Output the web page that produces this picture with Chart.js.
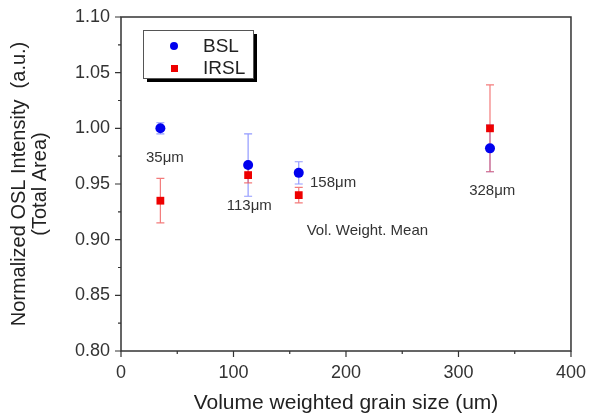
<!DOCTYPE html>
<html>
<head>
<meta charset="utf-8">
<script src="https://cdn.jsdelivr.net/npm/chart.js@4"></script>
<style>
  html, body { margin: 0; padding: 0; background: #fff; }
</style>
</head>
<body>
<canvas id="osl" width="589" height="416"></canvas>
<script>
// grain size (um) and normalized OSL intensity
const grainSize = [35, 113, 158, 328];
const bslValues = [1.000, 0.967, 0.960, 0.982];
const bslErrors = [0.005, 0.028, 0.010, 0.021];
const irslValues = [0.935, 0.958, 0.940, 1.000];
const irslErrors = [0.020, 0.007, 0.007, 0.039];

const xTicks = [0, 100, 200, 300, 400];
const yTicks = [0.80, 0.85, 0.90, 0.95, 1.00, 1.05, 1.10];

// text notes placed in data units
const notes = [
    {text: "35\u03bcm", x: 39, y: 0.9735, align: "center"},
    {text: "113\u03bcm", x: 114, y: 0.930, align: "center"},
    {text: "158\u03bcm", x: 168, y: 0.9514, align: "left"},
    {text: "328\u03bcm", x: 330, y: 0.9438, align: "center"},
    {text: "Vol. Weight. Mean", x: 219, y: 0.908, align: "center"}
];

const FONT = "Arial, 'Liberation Sans', sans-serif";
const INK = "#333";

const toPoints = (xs, ys) => xs.map((x, i) => ({x: x, y: ys[i]}));

// error bars, frame, minor ticks, notes and the boxed legend
const decor = {
    id: "decor",
    beforeDatasetsDraw(chart) {
        const {ctx, scales: {x, y}} = chart;
        const bars = [[bslErrors, "rgba(110,120,255,0.75)", 0], [irslErrors, "rgba(240,90,90,0.8)", 1]];
        ctx.save();
        ctx.lineWidth = 1.2;
        bars.forEach(([errs, color, di]) => {
            ctx.strokeStyle = color;
            chart.data.datasets[di].data.forEach((p, i) => {
                const px = x.getPixelForValue(p.x);
                const top = y.getPixelForValue(p.y + errs[i]);
                const bot = y.getPixelForValue(p.y - errs[i]);
                ctx.beginPath();
                ctx.moveTo(px, top); ctx.lineTo(px, bot);
                ctx.moveTo(px - 4, top); ctx.lineTo(px + 4, top);
                ctx.moveTo(px - 4, bot); ctx.lineTo(px + 4, bot);
                ctx.stroke();
            });
        });
        ctx.restore();
    },
    afterDraw(chart) {
        const {ctx, chartArea: a, scales: {x, y}} = chart;
        ctx.save();
        ctx.strokeStyle = INK;
        ctx.lineWidth = 1.5;
        ctx.strokeRect(a.left, a.top, a.right - a.left, a.bottom - a.top);

        // outward ticks, major every label, minor halfway
        ctx.lineWidth = 1.2;
        ctx.beginPath();
        for (let v = 0; v <= 400; v += 50) {
            const px = x.getPixelForValue(v);
            const len = v % 100 === 0 ? 6 : 3;
            ctx.moveTo(px, a.bottom); ctx.lineTo(px, a.bottom + len);
        }
        for (let k = 0; k <= 12; k++) {
            const v = 0.80 + k * 0.025;
            const py = y.getPixelForValue(v);
            const len = k % 2 === 0 ? 6 : 3;
            ctx.moveTo(a.left, py); ctx.lineTo(a.left - len, py);
        }
        ctx.stroke();

        ctx.fillStyle = INK;
        ctx.font = "15px " + FONT;
        ctx.textBaseline = "middle";
        notes.forEach(n => {
            ctx.textAlign = n.align;
            ctx.fillText(n.text, x.getPixelForValue(n.x), y.getPixelForValue(n.y));
        });

        // legend box with drop shadow
        const lx = 143, ly = 30, lw = 110, lh = 48;
        ctx.fillStyle = "#000";
        ctx.fillRect(lx + 4, ly + 4, lw, lh);
        ctx.fillStyle = "#fff";
        ctx.fillRect(lx, ly, lw, lh);
        ctx.strokeStyle = "#555";
        ctx.lineWidth = 1;
        ctx.strokeRect(lx + 0.5, ly + 0.5, lw, lh);
        ctx.fillStyle = "#0000ee";
        ctx.beginPath();
        ctx.arc(174, 46, 4, 0, Math.PI * 2);
        ctx.fill();
        ctx.fillStyle = "#ee0000";
        ctx.fillRect(171, 65, 7, 7);
        ctx.fillStyle = "#222";
        ctx.font = "19px " + FONT;
        ctx.textAlign = "left";
        ctx.fillText(chart.data.datasets[0].label, 203, 47);
        ctx.fillText(chart.data.datasets[1].label, 203, 69);
        ctx.restore();
    }
};

new Chart(document.getElementById("osl"), {
    type: "scatter",
    data: {
        datasets: [
            {
                label: "BSL",
                data: toPoints(grainSize, bslValues),
                pointStyle: "circle",
                pointRadius: 5,
                backgroundColor: "#0000ee",
                borderColor: "#0000ee",
                borderWidth: 0
            },
            {
                label: "IRSL",
                data: toPoints(grainSize, irslValues),
                pointStyle: "rect",
                pointRadius: 5.5,
                backgroundColor: "#ee0000",
                borderColor: "#ee0000",
                borderWidth: 0
            }
        ]
    },
    options: {
        responsive: false,
        animation: false,
        layout: {padding: {top: 17, right: 18, left: 0, bottom: 0}},
        plugins: {
            legend: {display: false},
            tooltip: {enabled: false}
        },
        scales: {
            x: {
                type: "linear",
                min: 0,
                max: 400,
                afterBuildTicks: s => { s.ticks = xTicks.map(v => ({value: v})); },
                afterFit: s => { s.height = 65; },
                grid: {display: false},
                border: {display: false},
                ticks: {
                    color: INK,
                    padding: 3,
                    maxRotation: 0,
                    font: {family: FONT, size: 18}
                },
                title: {
                    display: true,
                    text: "Volume weighted grain size (um)",
                    color: "#222",
                    padding: {top: 0, bottom: 0},
                    font: {family: FONT, size: 21}
                }
            },
            y: {
                type: "linear",
                min: 0.80,
                max: 1.10,
                afterBuildTicks: s => { s.ticks = yTicks.map(v => ({value: v})); },
                afterFit: s => { s.width = 121; },
                grid: {display: false},
                border: {display: false},
                ticks: {
                    color: INK,
                    padding: 3,
                    font: {family: FONT, size: 18},
                    callback: v => v.toFixed(2)
                },
                title: {
                    display: true,
                    text: ["Normalized OSL Intensity  (a.u.)", "(Total Area)"],
                    color: "#222",
                    padding: {top: 9, bottom: 0},
                    font: {family: FONT, size: 20, lineHeight: 1.05}
                }
            }
        }
    },
    plugins: [decor]
});
</script>
</body>
</html>
